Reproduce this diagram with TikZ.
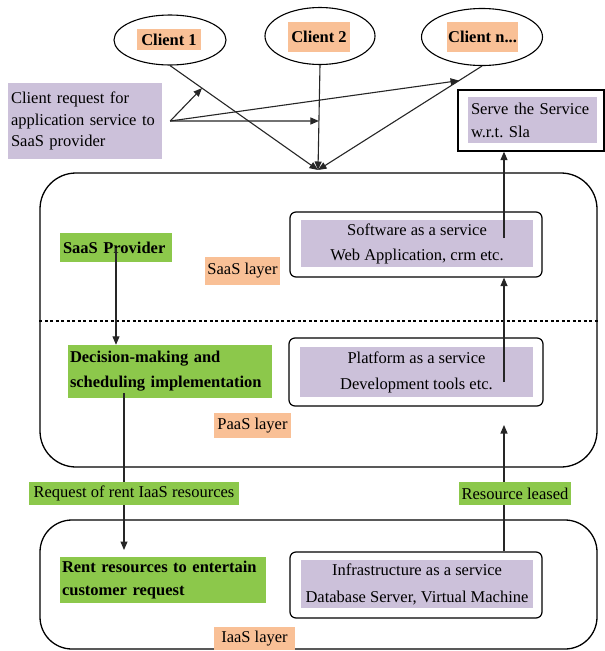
\documentclass[tikz,border=0pt]{standalone}
\usepackage{fontspec}
\setmainfont{Liberation Serif}
\usetikzlibrary{arrows.meta,shapes.geometric,calc}
\definecolor{lav}{HTML}{CCC1DA}
\definecolor{grn}{HTML}{8CC84B}
\definecolor{org}{HTML}{F9C096}
\begin{document}
\frenchspacing
\hyphenpenalty=10000
\exhyphenpenalty=10000
\begin{tikzpicture}[x=1pt,y=-1pt,
  every node/.style={font=\fontsize{16.5}{23}\selectfont, inner sep=0pt},
  con/.style={line width=1.1pt, draw=black!85},
  arr/.style={con, -{Triangle[length=8.5pt,width=7pt]}},
  ell/.style={draw, ellipse, line width=1.1pt},
  lavb/.style={fill=lav},
  grnb/.style={fill=grn},
  orgb/.style={fill=org},
  bld/.style={font=\fontsize{16.5}{23}\selectfont\bfseries},
  wbox/.style={draw, rounded corners=6pt, line width=1.2pt},
  layer/.style={draw, rounded corners=36pt, line width=1.3pt}]
\useasboundingbox (0,0) rectangle (605,651);

% layer containers
\node[layer, minimum width=557pt, minimum height=294pt] (saas) at (318.5,320) {};
\node[layer, rounded corners=32pt, minimum width=557pt, minimum height=129pt] (iaas) at (318.5,584.5) {};
\coordinate (dy) at (0,321);
\draw[line width=1.1pt, dash pattern=on 3pt off 2.5pt] (saas.west |- dy) -- (saas.east |- dy);

% clients
\node[ell, minimum width=112pt, minimum height=50pt] (c1) at (170,40) {};
\node[orgb, bld, minimum width=64pt, minimum height=21pt] (c1t) at (169,39.5) {Client 1};
\node[ell, minimum width=110pt, minimum height=57pt] (c2) at (320,36) {};
\node[orgb, bld, minimum width=62pt, minimum height=30pt] (c2t) at (319,37) {Client 2};
\node[ell, minimum width=121pt, minimum height=57pt] (cn) at (482,37) {};
\node[orgb, bld, minimum width=71pt, minimum height=30pt] (cnt) at (482.5,37) {Client n...};

% client request
\node[lavb, font=\fontsize{16.5}{21.5}\selectfont, text width=148pt, inner xsep=3pt, align=left, minimum height=76pt] (req) at (85,121) {Client request for\\application service to\\SaaS provider};

% serve box
\node[draw, line width=1.3pt, minimum width=146pt, minimum height=61pt] (serve) at (531,120.5) {};
\node[lavb, text width=123pt, inner xsep=3pt, align=left, minimum height=46pt] (servet) at (532.5,120) {Serve the Service\\w.r.t. Sla};

% SaaS layer
\node[wbox, minimum width=252pt, minimum height=65pt] (swb) at (416,244.5) {};
\node[lavb, font=\fontsize{16.5}{25}\selectfont, minimum width=232pt, minimum height=47pt, align=center] (swt) at (417,243.5) {Software as a service\\Web Application, crm etc.};
\node[grnb, bld, text width=106pt, inner xsep=3pt, align=left, minimum height=29pt] (sp) at (116,247.5) {SaaS Provider};
\node[orgb, minimum width=75pt, minimum height=28pt] (sl) at (242.5,271) {SaaS layer};

% PaaS layer
\node[grnb, font=\fontsize{16.5}{25}\selectfont\bfseries, text width=200pt, inner xsep=2pt, align=left, minimum height=53pt] (dec) at (170,371.5) {Decision-making and\\scheduling implementation};
\node[wbox, minimum width=254pt, minimum height=68pt] (pfb) at (416,372) {};
\node[lavb, font=\fontsize{16.5}{26}\selectfont, minimum width=233pt, minimum height=50pt, align=center] (pft) at (416.5,372) {Platform as a service\\Development tools etc.};
\node[orgb, minimum width=77pt, minimum height=25pt] (pl) at (252.5,425.5) {PaaS layer};

% middle labels
\node[grnb, minimum width=210pt, minimum height=23pt] (rq) at (134,493.5) {Request of rent IaaS resources};
\node[grnb, minimum width=112pt, minimum height=23pt] (rl) at (515,493.5) {Resource leased};

% IaaS layer
\node[grnb, bld, text width=202pt, inner xsep=2pt, align=left, minimum height=46pt] (rent) at (163,580) {Rent resources to entertain\\customer request};
\node[wbox, minimum width=252pt, minimum height=66pt] (infb) at (416,585) {};
\node[lavb, font=\fontsize{16.5}{27}\selectfont, minimum width=232pt, minimum height=48pt, align=center] (inft) at (417,584) {Infrastructure as a service\\Database Server, Virtual Machine};
\node[orgb, minimum width=81pt, minimum height=23pt] (il) at (254.5,638.5) {IaaS layer};

% client connectors
\coordinate (m) at (318,170);
\draw[arr] (c1.south) -- (m);
\draw[arr] (c2.south) -- (m);
\draw[arr] (cn.south) -- (m);
\path (c1.south) -- (m) coordinate[pos=0.216] (p1);
\path (c2.south) -- (m) coordinate[pos=0.533] (p2);
\path (cn.south) -- (m) coordinate[pos=0.14] (p3);
\coordinate (o) at ($(req.east)+(8,0)$);
\draw[arr] (o) -- (p1);
\draw[arr] (o) -- (p2);
\draw[arr] (o) -- (p3);

% left chain
\draw[arr] (sp.center) -- (sp.center |- dec.north);
\coordinate (dl) at (124,393);
\draw[con] (dl) -- (dl |- rq.north);
\coordinate (ra) at (124,550);
\draw[arr] (dl |- rq.south) -- (ra);

% right chain
\coordinate (rx) at (504,0);
\draw[con] (infb.north -| rx) -- (rl.south -| rx);
\coordinate (t1) at (504,425);
\draw[arr] (rl.north -| rx) -- (t1);
\coordinate (pin) at (504,382);
\draw[arr] (pin) -- (pin |- swb.south);
\coordinate (sin) at (504,238);
\draw[arr] (sin) -- (sin |- serve.south);
\end{tikzpicture}
\end{document}
